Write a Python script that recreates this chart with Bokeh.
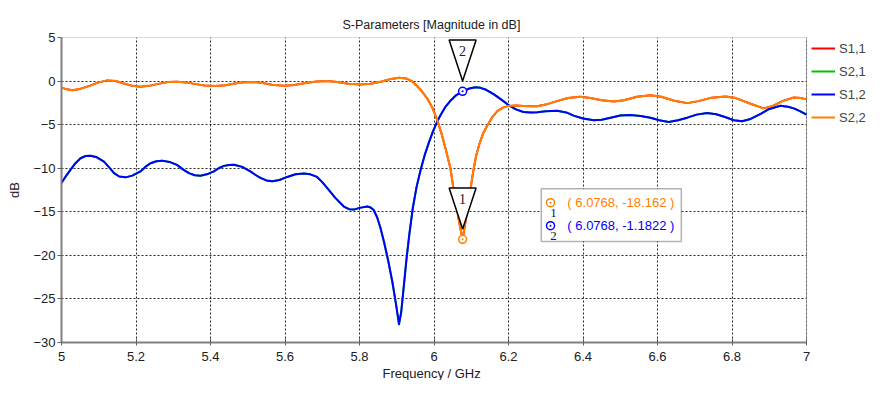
from bokeh.plotting import figure
from bokeh.models import FixedTicker, Legend, LegendItem, BoxAnnotation, Label, Title
from bokeh.core.properties import value
from bokeh.embed import file_html
from bokeh.resources import INLINE

# ---------------- data ----------------
x_ticks = [5.0, 5.2, 5.4, 5.6, 5.8, 6.0, 6.2, 6.4, 6.6, 6.8, 7.0]
x_tick_labels = ["5", "5.2", "5.4", "5.6", "5.8", "6", "6.2", "6.4", "6.6", "6.8", "7"]
y_ticks = [-30, -25, -20, -15, -10, -5, 0, 5]

# S2,2 (S1,1 lies underneath it)
s22_f = [5.000, 5.015, 5.029, 5.050, 5.075, 5.100, 5.123, 5.145, 5.170, 5.190,
         5.212, 5.235, 5.260, 5.285, 5.310, 5.335, 5.360, 5.385, 5.413, 5.440,
         5.465, 5.490, 5.515, 5.540, 5.565, 5.597, 5.625, 5.655, 5.685, 5.713,
         5.740, 5.770, 5.803, 5.830, 5.860, 5.885, 5.906, 5.925, 5.940, 5.955,
         5.968, 5.982, 5.995, 6.008, 6.020, 6.032, 6.044, 6.052, 6.060, 6.068,
         6.0768, 6.085, 6.092, 6.099, 6.106, 6.113, 6.122, 6.132, 6.143, 6.157,
         6.170, 6.185, 6.200, 6.220, 6.240, 6.260, 6.277, 6.300, 6.330, 6.360,
         6.393, 6.420, 6.450, 6.483, 6.510, 6.545, 6.581, 6.610, 6.645, 6.680,
         6.710, 6.745, 6.783, 6.810, 6.850, 6.885, 6.910, 6.935, 6.966, 6.985,
         7.000]
s22_db = [-0.75, -0.95, -1.05, -0.90, -0.55, -0.15, 0.08, 0.00, -0.30, -0.55,
          -0.64, -0.55, -0.32, -0.12, -0.07, -0.15, -0.35, -0.52, -0.57, -0.48,
          -0.28, -0.13, -0.11, -0.22, -0.42, -0.53, -0.45, -0.22, -0.04, 0.00,
          -0.10, -0.30, -0.38, -0.30, -0.05, 0.25, 0.38, 0.30, 0.00, -0.60,
          -1.20, -2.00, -3.00, -4.40, -6.00, -7.90, -10.00, -12.25, -14.30, -16.30,
          -18.162, -16.00, -14.00, -12.10, -10.20, -8.60, -7.20, -6.00, -5.10, -4.10,
          -3.45, -3.05, -2.85, -2.80, -2.85, -2.90, -2.90, -2.70, -2.30, -1.95,
          -1.81, -1.95, -2.20, -2.34, -2.20, -1.80, -1.62, -1.80, -2.25, -2.53,
          -2.30, -1.90, -1.77, -1.95, -2.60, -3.13, -2.85, -2.30, -1.88, -1.95,
          -2.10]

# S1,2 (S2,1 lies underneath it)
s12_f = [5.000, 5.012, 5.024, 5.037, 5.051, 5.065, 5.078, 5.095, 5.114, 5.128,
         5.141, 5.155, 5.172, 5.190, 5.212, 5.225, 5.239, 5.255, 5.270, 5.290,
         5.310, 5.325, 5.342, 5.358, 5.373, 5.390, 5.409, 5.422, 5.436, 5.450,
         5.463, 5.485, 5.507, 5.520, 5.534, 5.550, 5.566, 5.585, 5.606, 5.628,
         5.651, 5.668, 5.686, 5.700, 5.713, 5.735, 5.758, 5.772, 5.785, 5.800,
         5.821, 5.830, 5.838, 5.847, 5.856, 5.866, 5.877, 5.888, 5.898, 5.906,
         5.912, 5.919, 5.926, 5.934, 5.943, 5.953, 5.964, 5.975, 5.986, 5.997,
         6.008, 6.017, 6.030, 6.044, 6.060, 6.0768, 6.095, 6.111, 6.125, 6.140,
         6.160, 6.180, 6.200, 6.220, 6.240, 6.260, 6.277, 6.300, 6.331, 6.355,
         6.375, 6.400, 6.429, 6.450, 6.474, 6.500, 6.527, 6.555, 6.581, 6.605,
         6.630, 6.655, 6.680, 6.705, 6.733, 6.758, 6.783, 6.805, 6.827, 6.850,
         6.877, 6.900, 6.930, 6.950, 6.966, 6.985, 7.000]
s12_db = [-11.70, -10.90, -10.20, -9.45, -8.86, -8.60, -8.56, -8.75, -9.24, -9.90,
          -10.56, -10.95, -11.05, -10.85, -10.37, -9.85, -9.43, -9.20, -9.13, -9.28,
          -9.62, -10.10, -10.56, -10.80, -10.86, -10.70, -10.37, -10.00, -9.73, -9.62,
          -9.60, -9.85, -10.37, -10.75, -11.10, -11.40, -11.50, -11.35, -11.00, -10.70,
          -10.60, -10.70, -11.00, -11.60, -12.25, -13.40, -14.40, -14.70, -14.75, -14.55,
          -14.40, -14.50, -14.80, -15.60, -16.80, -18.50, -20.60, -23.00, -25.60, -27.90,
          -26.50, -23.50, -20.50, -17.50, -14.60, -12.20, -10.20, -8.50, -7.10, -5.80,
          -4.70, -3.96, -3.00, -2.26, -1.60, -1.1822, -0.85, -0.72, -0.78, -1.00,
          -1.50, -2.10, -2.75, -3.25, -3.55, -3.62, -3.58, -3.45, -3.40, -3.60,
          -3.96, -4.30, -4.50, -4.45, -4.22, -3.95, -3.90, -4.00, -4.20, -4.50,
          -4.70, -4.50, -4.20, -3.85, -3.66, -3.80, -4.15, -4.50, -4.60, -4.35,
          -3.77, -3.20, -2.83, -2.95, -3.13, -3.50, -3.85]

series_names = ["S1,1", "S2,1", "S1,2", "S2,2"]
series_colors = ["#FF0000", "#00C000", "#0000FF", "#FF8000"]

marker_f = [6.0768, 6.0768]
marker_db = [-18.162, -1.1822]
marker_ids = ["1", "2"]
marker_colors = ["#FF8000", "#0000FF"]

FONT = "Liberation Sans"

X0, X1 = x_ticks[0], x_ticks[-1]
Y0, Y1 = y_ticks[0], y_ticks[-1]

# ---------------- layout ----------------
W, H = 867, 380
LEFT, TOP_B, BOTTOM = 61, 37, 37
PLOT_W = 745                      # pixel width of the 5..7 GHz data area
FRAME_W = W - LEFT                # frame extends to the right edge (legend lives there)
x_end = X0 + (X1 - X0) * FRAME_W / PLOT_W

p = figure(width=W, height=H, output_backend="svg", toolbar_location=None,
           x_range=(X0, x_end), y_range=(Y0, Y1),
           min_border_left=LEFT, min_border_right=0, min_border_top=TOP_B,
           min_border_bottom=BOTTOM, title="S-Parameters [Magnitude in dB]")
p.title.align = "left"
p.title.offset = 281
p.title.text_font = FONT
p.title.text_font_size = "12.5px"
p.title.text_font_style = "normal"
p.title.text_color = "#202020"
p.title.standoff = 12
p.outline_line_color = None
p.background_fill_color = "white"
p.border_fill_color = "white"

p.xaxis.ticker = FixedTicker(ticks=x_ticks)
p.xaxis.major_label_overrides = dict(zip(x_ticks, x_tick_labels))
p.xaxis.bounds = (X0, X1)
p.yaxis.ticker = FixedTicker(ticks=y_ticks)
p.yaxis.axis_label = "dB"
for ax in (p.xaxis[0], p.yaxis[0]):
    ax.axis_line_color = "#808080"
    ax.axis_line_width = 2
    ax.major_tick_line_color = "#606060"
    ax.minor_tick_line_color = None
    ax.major_label_text_font = FONT
    ax.major_label_text_font_size = "13px"
    ax.major_label_text_color = "#202020"
    ax.axis_label_text_font = FONT
    ax.axis_label_text_font_size = "13px"
    ax.axis_label_text_font_style = "normal"
    ax.axis_label_text_color = "#202020"
p.xaxis.major_tick_in = 4
p.xaxis.major_tick_out = 3
p.xaxis.major_label_standoff = 6
p.yaxis.major_tick_in = 0
p.yaxis.major_tick_out = 4
p.yaxis.major_label_standoff = 2
p.yaxis.axis_label_standoff = 8

# x axis title, placed under the 5..7 GHz part of the axis
xlab = Title(text="Frequency / GHz", align="left", offset=321, standoff=0,
             text_font=FONT, text_font_size="13px", text_font_style="normal",
             text_color="#202020")
p.add_layout(xlab, "below")

for g in (p.xgrid[0], p.ygrid[0]):
    g.grid_line_color = "black"
    g.grid_line_dash = "2 2"
    g.grid_line_alpha = 0.85
    g.grid_line_width = 1

# white area right of the plot (legend space) and the plot border
p.add_layout(BoxAnnotation(left=X1, right=x_end, bottom=Y0, top=Y1, fill_color="white",
                           fill_alpha=1.0, line_alpha=0, level="underlay"))
p.add_layout(BoxAnnotation(left=X0, right=X1, bottom=Y0, top=Y1, fill_alpha=0,
                           line_color="black", line_width=1, level="underlay"))

# ---------------- curves ----------------
r11 = p.line(s22_f, s22_db, line_color=series_colors[0], line_width=2, line_join="round")
r21 = p.line(s12_f, s12_db, line_color=series_colors[1], line_width=2, line_join="round")
r12 = p.line(s12_f, s12_db, line_color=series_colors[2], line_width=2, line_join="round")
r22 = p.line(s22_f, s22_db, line_color=series_colors[3], line_width=2, line_join="round")

# ---------------- markers ----------------
HW = 0.0362      # triangle half width (GHz) ~ 13.5 px
TOP = 5.9        # triangle top above marker (dB) ~ 52 px
APEX = 1.19      # triangle apex above marker (dB) ~ 10.5 px
tri_xs = [[f - HW, f + HW, f] for f in marker_f]
tri_ys = [[d + TOP, d + TOP, d + APEX] for d in marker_db]
p.patches(tri_xs, tri_ys, fill_color="white", line_color="black", line_width=1.5)
p.text(marker_f, marker_db, text=marker_ids, y_offset=-40,
       text_align="center", text_baseline="middle",
       text_font=value("Liberation Serif"), text_font_size="14px", text_color="#202020")
p.scatter(marker_f, marker_db, marker="circle_dot", size=8,
          line_color=marker_colors, fill_color="white", line_width=1.5)

# ---------------- info box ----------------
box = BoxAnnotation(left=6.288, right=6.664, top=-12.37, bottom=-18.4,
                    fill_color="white", fill_alpha=1.0, line_color="black",
                    line_width=1.5, level="underlay")
p.add_layout(box)
icon_f = [6.3128, 6.3128]
icon_db = [-13.95, -16.6]
p.scatter(icon_f, icon_db, marker="circle_dot", size=8,
          line_color=marker_colors, fill_color="white", line_width=1.5)
p.text(icon_f, icon_db, text=marker_ids, x_offset=3, y_offset=10,
       text_align="center", text_baseline="middle",
       text_font=value("Liberation Serif"), text_font_size="13px", text_color="#202020")
for d, c, m in zip(icon_db, marker_colors, marker_db):
    p.add_layout(Label(x=6.358, y=d, text="( %.4f, %.5g )" % (marker_f[0], m),
                       text_color=c, text_font=FONT, text_font_size="13px",
                       text_baseline="middle"))

# ---------------- legend ----------------
legend = Legend(items=[LegendItem(label=n, renderers=[r]) for n, r in
                       zip(series_names, [r11, r21, r12, r22])],
                location=(750, 215), orientation="vertical")
legend.padding = 0
legend.margin = 0
legend.spacing = 3
legend.glyph_width = 24
legend.glyph_height = 20
legend.label_height = 20
legend.label_standoff = 4
legend.border_line_alpha = 0
legend.background_fill_alpha = 0
legend.label_text_font = FONT
legend.label_text_font_size = "13px"
p.add_layout(legend, "center")

open("out.html", "w").write(file_html(p, INLINE))
